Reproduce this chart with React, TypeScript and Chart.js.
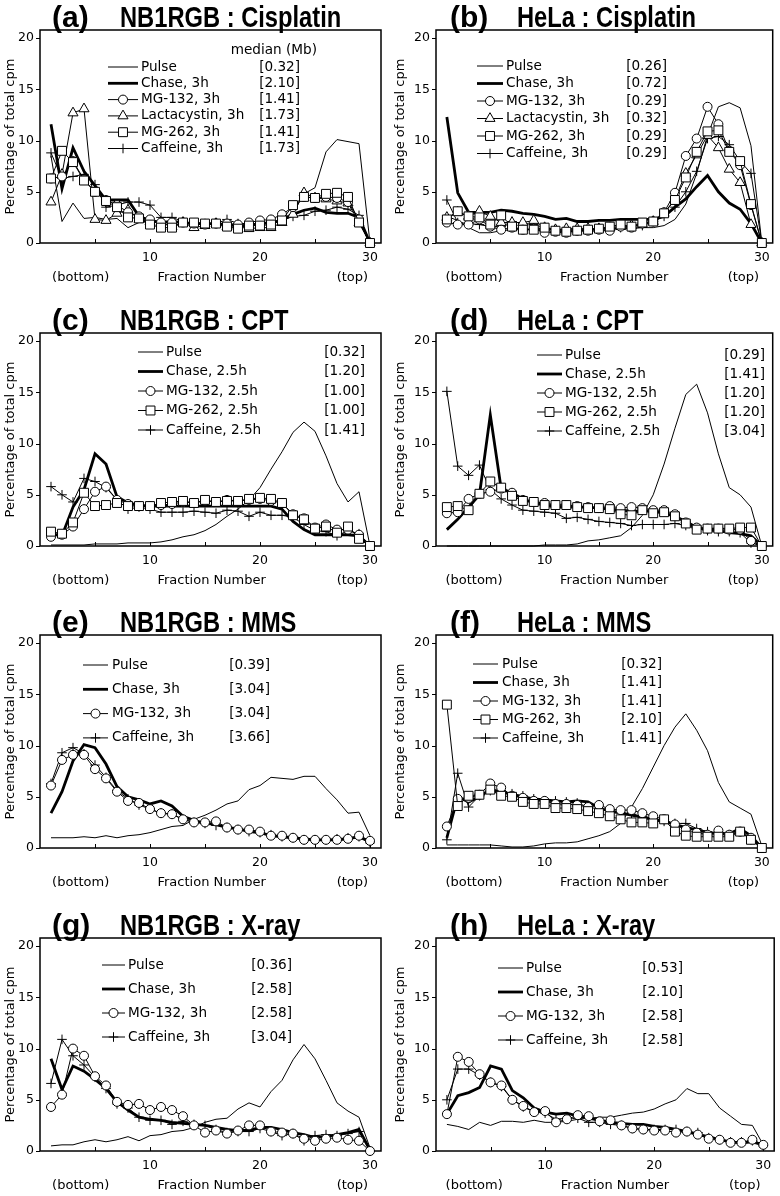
import React, { useEffect, useRef } from 'react';
import { Chart, registerables } from 'chart.js';

Chart.register(...registerables);

// ---------------- data ----------------
const fractions = [1, 2, 3, 4, 5, 6, 7, 8, 9, 10, 11, 12, 13, 14, 15, 16, 17, 18, 19, 20, 21, 22, 23, 24, 25, 26, 27, 28, 29, 30];
const yTickValues = [0, 5, 10, 15, 20];
const xTickValues = [5, 10, 15, 20, 25, 30];

// (a) NB1RGB : Cisplatin
const aPulse = [8.5, 2.1, 3.9, 2.4, 2.5, 2.3, 2.4, 1.5, 2.0, 2.1, 2.0, 2.1, 2.0, 1.9, 1.9, 1.9, 1.8, 1.8, 1.9, 1.9, 1.9, 2.3, 3.0, 4.8, 5.4, 8.9, 10.1, 9.9, 9.7, 0];
const aChase = [11.6, 5.3, 9.3, 7.0, 5.6, 4.2, 4.2, 4.2, 2.6, 2.2, 2.0, 2.1, 2.0, 1.9, 1.9, 1.9, 1.8, 1.7, 1.7, 1.9, 2.0, 2.2, 2.8, 3.2, 3.4, 3.0, 2.9, 2.9, 2.5, 0];
const aMG132 = [6.3, 6.5, 8.0, 6.2, 5.0, 4.2, 3.7, 3.0, 2.6, 2.3, 2.0, 2.0, 2.0, 1.9, 1.8, 1.9, 1.9, 1.8, 2.0, 2.2, 2.3, 2.8, 3.5, 4.5, 4.4, 4.5, 4.4, 4.0, 2.3, 0];
const aLacta = [4.0, 6.7, 12.7, 13.1, 2.3, 2.2, 2.9, 3.2, 2.3, 2.1, 2.0, 1.6, 2.0, 1.5, 1.7, 1.9, 1.6, 1.7, 1.4, 1.5, 1.5, 2.0, 2.8, 4.9, 4.4, 4.3, 4.1, 3.9, 2.0, 0];
const aMG262 = [6.3, 9.0, 7.9, 6.1, 5.0, 4.1, 3.5, 2.5, 2.4, 1.8, 1.5, 1.5, 2.0, 2.0, 1.9, 1.9, 1.6, 1.4, 1.7, 1.7, 1.8, 2.2, 3.7, 4.5, 4.4, 4.8, 4.9, 4.5, 2.0, 0];
const aCaff = [8.8, 6.3, 6.5, 6.7, 5.7, 3.5, 3.7, 4.0, 4.0, 3.7, 2.5, 2.5, 2.1, 1.9, 1.9, 1.9, 2.3, 1.9, 1.8, 1.8, 2.0, 2.2, 2.6, 2.7, 3.1, 3.2, 3.5, 3.3, 2.7, 0];
const aMedians = ['[0.32]', '[2.10]', '[1.41]', '[1.73]', '[1.41]', '[1.73]'];

// (b) HeLa : Cisplatin
const bPulse = [2.6, 2.2, 1.5, 1.0, 1.0, 1.2, 1.3, 1.3, 1.3, 1.3, 1.3, 1.3, 1.3, 1.3, 1.3, 1.4, 1.4, 1.4, 1.5, 1.5, 1.7, 2.3, 3.8, 6.8, 10.5, 13.3, 13.7, 13.2, 9.5, 0];
const bChase = [12.3, 4.9, 3.0, 3.0, 3.0, 3.2, 3.1, 2.9, 2.8, 2.6, 2.3, 2.4, 2.1, 2.1, 2.2, 2.2, 2.3, 2.3, 2.3, 2.3, 2.6, 3.5, 4.3, 5.5, 6.6, 5.0, 3.9, 3.3, 1.9, 0];
const bMG132 = [2.0, 1.8, 1.8, 2.3, 1.6, 1.3, 1.5, 1.3, 1.4, 1.0, 1.1, 1.0, 1.2, 1.2, 1.3, 1.2, 1.6, 1.5, 1.9, 2.1, 3.0, 4.9, 8.5, 10.2, 13.3, 11.6, 9.0, 7.6, 3.7, 0];
const bLacta = [2.5, 3.0, 2.6, 3.1, 2.6, 2.0, 2.0, 2.0, 2.2, 1.5, 1.3, 1.4, 1.4, 1.4, 1.4, 1.5, 1.6, 1.7, 1.8, 2.1, 2.9, 4.3, 6.8, 8.6, 10.5, 9.3, 7.2, 5.9, 1.8, 0];
const bMG262 = [2.3, 3.1, 2.6, 2.5, 1.8, 2.7, 1.6, 1.3, 1.3, 1.5, 1.2, 1.1, 1.2, 1.3, 1.4, 1.6, 1.8, 1.6, 2.0, 2.1, 2.9, 4.2, 6.4, 8.9, 10.9, 11.0, 8.9, 8.0, 3.8, 0];
const bCaff = [4.2, 2.0, 1.9, 1.8, 1.6, 1.6, 2.1, 1.9, 1.8, 1.5, 1.3, 1.2, 1.2, 1.3, 1.4, 1.4, 1.5, 1.7, 1.7, 2.1, 2.6, 3.5, 5.0, 7.0, 10.2, 10.4, 9.6, 8.0, 6.8, 0];
const bMedians = ['[0.26]', '[0.72]', '[0.29]', '[0.32]', '[0.29]', '[0.29]'];

// (c) NB1RGB : CPT
const cPulse = [0.1, 0.1, 0.1, 0.1, 0.2, 0.2, 0.2, 0.3, 0.3, 0.3, 0.4, 0.6, 0.9, 1.1, 1.5, 2.1, 2.9, 3.6, 4.5, 5.7, 7.5, 9.2, 11.1, 12.1, 11.2, 8.8, 6.1, 4.3, 5.3, 0];
const cChase = [1.2, 1.0, 3.8, 5.5, 9.0, 8.0, 4.8, 4.2, 4.0, 3.9, 3.9, 3.9, 3.9, 3.9, 3.9, 3.9, 3.9, 3.9, 3.9, 3.9, 3.9, 3.6, 2.4, 1.6, 1.1, 1.1, 1.1, 1.1, 1.0, 0];
const cMG132 = [0.9, 1.1, 1.9, 3.6, 5.3, 5.8, 4.5, 4.1, 3.9, 3.9, 4.0, 4.1, 4.3, 4.2, 4.4, 4.3, 4.5, 4.4, 4.5, 4.6, 4.4, 4.2, 3.1, 2.7, 1.8, 2.1, 1.6, 1.6, 1.1, 0];
const cMG262 = [1.4, 1.2, 2.3, 5.2, 3.9, 4.0, 4.2, 3.9, 3.9, 3.9, 4.2, 4.3, 4.4, 4.2, 4.5, 4.3, 4.4, 4.4, 4.6, 4.7, 4.6, 4.2, 3.0, 2.6, 1.7, 1.9, 1.3, 1.9, 0.7, 0];
const cCaff = [5.8, 5.0, 4.3, 6.6, 6.3, 5.7, 4.5, 3.6, 3.8, 3.6, 3.3, 3.3, 3.3, 3.4, 3.3, 3.2, 3.5, 3.4, 2.9, 3.3, 3.0, 3.0, 2.8, 2.1, 1.5, 1.4, 1.0, 1.5, 1.2, 0];
const cMedians = ['[0.32]', '[1.20]', '[1.00]', '[1.00]', '[1.41]'];

// (d) HeLa : CPT
const dPulse = [0.0, 0.0, 0.0, 0.0, 0.0, 0.0, 0.0, 0.0, 0.0, 0.1, 0.1, 0.1, 0.2, 0.5, 0.6, 0.8, 1.0, 1.8, 3.0, 5.0, 8.0, 11.5, 14.8, 15.8, 13.0, 9.0, 5.7, 5.0, 3.8, 0];
const dChase = [1.6, 2.6, 3.8, 5.0, 12.8, 5.6, 5.2, 4.6, 4.2, 4.0, 3.8, 3.8, 3.8, 3.8, 3.7, 3.6, 3.5, 3.4, 3.4, 3.4, 3.2, 2.9, 2.4, 1.8, 1.6, 1.5, 1.3, 1.2, 1.0, 0];
const dMG132 = [3.2, 3.3, 4.6, 5.1, 5.3, 5.6, 5.2, 4.5, 4.3, 4.2, 4.0, 4.0, 3.9, 3.8, 3.7, 3.9, 3.7, 3.8, 3.7, 3.5, 3.5, 3.1, 2.3, 1.8, 1.7, 1.7, 1.6, 1.6, 0.5, 0];
const dMG262 = [3.8, 3.9, 3.5, 5.1, 6.3, 5.7, 4.9, 4.4, 4.3, 4.0, 4.0, 4.0, 3.8, 3.7, 3.7, 3.6, 3.1, 3.0, 3.5, 3.2, 3.3, 2.9, 2.2, 1.6, 1.7, 1.7, 1.7, 1.8, 1.8, 0];
const dCaff = [15.1, 7.8, 6.9, 7.9, 5.5, 4.6, 4.0, 3.5, 3.4, 3.3, 3.2, 2.7, 2.8, 2.6, 2.4, 2.3, 2.2, 2.0, 2.1, 2.1, 2.1, 2.2, 2.0, 1.7, 1.5, 1.4, 1.4, 1.3, 0.3, 0];
const dMedians = ['[0.29]', '[1.41]', '[1.20]', '[1.20]', '[3.04]'];

// (e) NB1RGB : MMS
const ePulse = [1.0, 1.0, 1.0, 1.1, 1.0, 1.2, 1.0, 1.2, 1.3, 1.5, 1.8, 2.1, 2.2, 2.8, 3.2, 3.7, 4.3, 4.6, 5.7, 6.1, 6.9, 6.8, 6.7, 7.0, 7.0, 5.8, 4.7, 3.4, 3.5, 1.2];
const eChase = [3.4, 5.5, 8.5, 10.1, 9.8, 8.2, 6.0, 5.0, 4.7, 4.3, 4.6, 4.1, 3.1, 2.7, 2.4, 2.3, 2.0, 1.9, 1.6, 1.5, 1.2, 1.1, 1.0, 0.9, 0.8, 0.8, 0.8, 0.9, 1.1, 0.6];
const eMG132 = [6.1, 8.6, 9.1, 9.1, 7.7, 6.8, 5.5, 4.6, 4.4, 3.8, 3.4, 3.3, 2.8, 2.5, 2.5, 2.6, 2.0, 1.8, 1.8, 1.6, 1.2, 1.2, 1.0, 0.8, 0.8, 0.8, 0.8, 0.9, 1.2, 0.7];
const eCaff = [6.3, 9.3, 9.8, 9.2, 8.1, 6.9, 5.6, 4.8, 4.2, 3.8, 3.4, 3.3, 2.8, 2.5, 2.4, 2.2, 2.0, 1.8, 1.6, 1.5, 1.3, 1.1, 1.0, 0.8, 0.8, 0.8, 0.9, 1.0, 1.1, 0.5];
const eMedians = ['[0.39]', '[3.04]', '[3.04]', '[3.66]'];

// (f) HeLa : MMS
const fPulse = [0.3, 0.3, 0.3, 0.3, 0.3, 0.2, 0.1, 0.1, 0.2, 0.4, 0.5, 0.5, 0.6, 0.9, 1.2, 1.6, 2.4, 4.0, 5.8, 7.9, 10.0, 11.8, 13.1, 11.5, 9.5, 6.4, 4.5, 3.9, 3.3, 0.2];
const fChase = [1.0, 5.0, 4.5, 5.0, 5.7, 5.5, 5.2, 5.0, 4.8, 4.7, 4.6, 4.5, 4.6, 4.5, 3.9, 3.6, 3.4, 3.2, 3.0, 2.8, 2.6, 2.3, 2.0, 1.8, 1.5, 1.4, 1.4, 1.9, 1.2, 0];
const fMG132 = [2.1, 4.8, 4.9, 5.2, 6.3, 5.9, 5.1, 4.9, 4.6, 4.6, 4.3, 4.3, 4.2, 4.0, 4.2, 3.8, 3.7, 3.7, 3.4, 3.1, 2.8, 2.3, 1.8, 1.5, 1.3, 1.7, 1.3, 1.6, 1.0, 0];
const fMG262 = [14.0, 4.1, 5.1, 5.2, 5.7, 5.1, 5.0, 4.5, 4.3, 4.3, 3.9, 3.9, 3.8, 3.6, 3.4, 3.1, 2.8, 2.5, 2.5, 2.4, 2.8, 1.6, 1.2, 1.1, 1.1, 1.1, 1.1, 1.6, 0.8, 0];
const fCaff = [0.8, 7.3, 4.0, 5.1, 5.6, 5.6, 5.3, 5.1, 4.8, 4.6, 4.6, 4.5, 4.4, 4.0, 3.8, 3.7, 3.5, 3.3, 3.1, 2.9, 2.6, 2.4, 2.4, 1.9, 1.6, 1.3, 1.3, 1.6, 0.8, 0];
const fMedians = ['[0.32]', '[1.41]', '[1.41]', '[2.10]', '[1.41]'];

// (g) NB1RGB : X-ray
const gPulse = [0.5, 0.6, 0.6, 0.9, 1.1, 0.9, 1.1, 1.4, 1.0, 1.5, 1.6, 1.9, 2.0, 2.3, 2.8, 3.1, 3.2, 4.1, 4.7, 4.3, 5.8, 6.9, 8.9, 10.4, 9.0, 6.9, 4.7, 3.9, 3.3, 0.3];
const gChase = [9.0, 6.0, 8.3, 7.8, 7.0, 6.1, 4.8, 4.0, 3.3, 3.1, 3.0, 2.8, 2.7, 2.6, 2.5, 2.3, 2.1, 2.0, 2.0, 2.3, 2.3, 2.1, 1.8, 1.6, 1.3, 1.4, 1.6, 1.8, 2.1, 0.1];
const gMG132 = [4.3, 5.5, 10.0, 9.3, 7.3, 6.4, 4.8, 4.5, 4.6, 4.0, 4.3, 4.0, 3.4, 2.5, 1.8, 2.0, 1.7, 2.0, 2.5, 2.5, 1.9, 1.8, 1.7, 1.2, 1.0, 1.2, 1.3, 1.1, 1.0, 0];
const gCaff = [6.6, 10.9, 9.3, 8.4, 7.2, 6.1, 4.6, 4.2, 3.3, 3.0, 3.0, 2.6, 2.9, 2.6, 2.5, 2.1, 1.8, 1.9, 1.9, 2.2, 1.9, 1.5, 1.7, 1.0, 1.5, 1.6, 1.5, 1.7, 1.9, 0];
const gMedians = ['[0.36]', '[2.58]', '[2.58]', '[3.04]'];

// (h) HeLa : X-ray
const hPulse = [2.6, 2.4, 2.1, 2.8, 2.5, 2.9, 2.9, 2.8, 3.0, 2.8, 2.8, 2.9, 3.1, 3.2, 3.3, 3.3, 3.5, 3.7, 3.8, 4.1, 4.6, 5.0, 6.1, 5.6, 5.6, 4.2, 3.4, 2.6, 2.5, 0.6];
const hChase = [3.6, 5.4, 5.7, 6.2, 8.3, 8.0, 5.9, 5.2, 4.2, 3.8, 3.6, 3.7, 3.4, 3.2, 3.0, 2.8, 2.7, 2.6, 2.6, 2.4, 2.3, 2.1, 1.9, 1.6, 1.4, 1.1, 0.9, 0.8, 0.9, 0.6];
const hMG132 = [3.6, 9.2, 8.7, 7.5, 6.7, 6.4, 5.0, 4.4, 3.8, 3.9, 2.8, 3.1, 3.5, 3.4, 2.9, 3.0, 2.5, 2.2, 2.1, 2.0, 2.0, 1.8, 1.9, 1.6, 1.2, 1.1, 0.8, 0.8, 1.1, 0.6];
const hCaff = [5.0, 8.0, 8.0, 7.4, 6.7, 6.3, 5.0, 4.3, 3.8, 3.7, 3.1, 3.2, 3.2, 2.8, 2.8, 2.6, 2.5, 2.2, 2.1, 2.1, 2.1, 2.1, 1.9, 1.8, 1.3, 1.1, 0.9, 0.9, 1.0, 0.5];
const hMedians = ['[0.53]', '[2.10]', '[2.58]', '[2.58]'];

// ---------------- styling / layout ----------------
type Kind = 'pulse' | 'chase' | 'mg132' | 'lacta' | 'mg262' | 'caff';
type Series = { kind: Kind; label: string; data: number[] };
type Legend = { top: number; gap: number; x0: number; x1: number; tx: number; br: number; header?: string };
type PanelDef = { tag: string; title: string; col: number; row: number; series: Series[]; medians: string[]; legend: Legend };

const S = (kind: Kind, label: string, data: number[]): Series => ({ kind, label, data });

const PANELS: PanelDef[] = [
  { tag: '(a)', title: 'NB1RGB : Cisplatin', col: 0, row: 0, medians: aMedians,
    series: [S('pulse', 'Pulse', aPulse), S('chase', 'Chase, 3h', aChase), S('mg132', 'MG-132, 3h', aMG132), S('lacta', 'Lactacystin, 3h', aLacta), S('mg262', 'MG-262, 3h', aMG262), S('caff', 'Caffeine, 3h', aCaff)],
    legend: { top: 67, gap: 16.3, x0: 108, x1: 138, tx: 141, br: 300, header: 'median (Mb)' } },
  { tag: '(b)', title: 'HeLa : Cisplatin', col: 1, row: 0, medians: bMedians,
    series: [S('pulse', 'Pulse', bPulse), S('chase', 'Chase, 3h', bChase), S('mg132', 'MG-132, 3h', bMG132), S('lacta', 'Lactacystin, 3h', bLacta), S('mg262', 'MG-262, 3h', bMG262), S('caff', 'Caffeine, 3h', bCaff)],
    legend: { top: 66, gap: 17.5, x0: 87, x1: 113, tx: 116, br: 277 } },
  { tag: '(c)', title: 'NB1RGB : CPT', col: 0, row: 1, medians: cMedians,
    series: [S('pulse', 'Pulse', cPulse), S('chase', 'Chase, 2.5h', cChase), S('mg132', 'MG-132, 2.5h', cMG132), S('mg262', 'MG-262, 2.5h', cMG262), S('caff', 'Caffeine, 2.5h', cCaff)],
    legend: { top: 49, gap: 19.5, x0: 138, x1: 163, tx: 166, br: 365 } },
  { tag: '(d)', title: 'HeLa : CPT', col: 1, row: 1, medians: dMedians,
    series: [S('pulse', 'Pulse', dPulse), S('chase', 'Chase, 2.5h', dChase), S('mg132', 'MG-132, 2.5h', dMG132), S('mg262', 'MG-262, 2.5h', dMG262), S('caff', 'Caffeine, 2.5h', dCaff)],
    legend: { top: 52, gap: 19, x0: 147, x1: 172, tx: 175, br: 375 } },
  { tag: '(e)', title: 'NB1RGB : MMS', col: 0, row: 2, medians: eMedians,
    series: [S('pulse', 'Pulse', ePulse), S('chase', 'Chase, 3h', eChase), S('mg132', 'MG-132, 3h', eMG132), S('caff', 'Caffeine, 3h', eCaff)],
    legend: { top: 60, gap: 24.3, x0: 83, x1: 108, tx: 112, br: 270 } },
  { tag: '(f)', title: 'HeLa : MMS', col: 1, row: 2, medians: fMedians,
    series: [S('pulse', 'Pulse', fPulse), S('chase', 'Chase, 3h', fChase), S('mg132', 'MG-132, 3h', fMG132), S('mg262', 'MG-262, 3h', fMG262), S('caff', 'Caffeine, 3h', fCaff)],
    legend: { top: 59, gap: 18.5, x0: 83, x1: 108, tx: 112, br: 272 } },
  { tag: '(g)', title: 'NB1RGB : X-ray', col: 0, row: 3, medians: gMedians,
    series: [S('pulse', 'Pulse', gPulse), S('chase', 'Chase, 3h', gChase), S('mg132', 'MG-132, 3h', gMG132), S('caff', 'Caffeine, 3h', gCaff)],
    legend: { top: 57, gap: 24, x0: 102, x1: 125, tx: 128, br: 292 } },
  { tag: '(h)', title: 'HeLa : X-ray', col: 1, row: 3, medians: hMedians,
    series: [S('pulse', 'Pulse', hPulse), S('chase', 'Chase, 3h', hChase), S('mg132', 'MG-132, 3h', hMG132), S('caff', 'Caffeine, 3h', hCaff)],
    legend: { top: 60, gap: 24, x0: 108, x1: 133, tx: 136, br: 293 } },
];

const CANVAS_W = 390;
const CANVAS_H = 288;
const ROW_TOPS = [0, 303, 605, 908];
const BOX_TOP = 30;
const BOX_H = 213;
const COL_BOX = [{ left: 40, right: 381 }, { left: 46, right: 387 }];
const COL_TEXT = [
  { tagX: 52, titleX: 120, bottom: 3.7, fn: 15.6, top: 28.4 },
  { tagX: 60, titleX: 127, bottom: 3.5, fn: 16.4, top: 28.3 },
];
const FONT = '"DejaVu Sans", sans-serif';
const TITLE_FONT = '"Liberation Sans", Arial, sans-serif';

const MARKER: Record<Kind, { style: any; r: number; bw: number; order: number }> = {
  pulse: { style: false, r: 0, bw: 1, order: 6 },
  chase: { style: false, r: 0, bw: 2.8, order: 5 },
  mg132: { style: 'circle', r: 4.5, bw: 1, order: 2 },
  lacta: { style: 'triangle', r: 5.8, bw: 1, order: 3 },
  mg262: { style: 'rect', r: 6.3, bw: 1, order: 1 },
  caff: { style: 'cross', r: 4.8, bw: 1, order: 4 },
};

function drawMarker(ctx: CanvasRenderingContext2D, kind: Kind, x: number, y: number) {
  const m = MARKER[kind];
  if (!m.style) return;
  const r = m.r;
  ctx.save();
  ctx.lineWidth = 1;
  ctx.strokeStyle = '#000';
  ctx.fillStyle = '#fff';
  ctx.beginPath();
  if (m.style === 'circle') {
    ctx.arc(x, y, r, 0, Math.PI * 2);
  } else if (m.style === 'triangle') {
    for (let i = 0; i < 3; i++) {
      const a = (i * 2 * Math.PI) / 3;
      const px = x + Math.sin(a) * r;
      const py = y - Math.cos(a) * r;
      if (i === 0) ctx.moveTo(px, py); else ctx.lineTo(px, py);
    }
    ctx.closePath();
  } else if (m.style === 'rect') {
    const s = Math.SQRT1_2 * r;
    ctx.rect(x - s, y - s, 2 * s, 2 * s);
  } else if (m.style === 'cross') {
    ctx.moveTo(x - r, y); ctx.lineTo(x + r, y);
    ctx.moveTo(x, y - r); ctx.lineTo(x, y + r);
    ctx.stroke();
    ctx.restore();
    return;
  }
  ctx.fill();
  ctx.stroke();
  ctx.restore();
}

function makeDecor(p: PanelDef) {
  const ct = COL_TEXT[p.col];
  return {
    id: 'decor_' + p.tag,
    beforeDatasetsDraw(chart: any) {
      const ctx = chart.ctx as CanvasRenderingContext2D;
      const a = chart.chartArea;
      const xs = chart.scales.x;
      const ys = chart.scales.y;
      ctx.save();
      ctx.strokeStyle = '#000';
      ctx.lineWidth = 1.5;
      ctx.strokeRect(a.left, a.top, a.right - a.left, a.bottom - a.top);
      ctx.lineWidth = 1;
      ctx.beginPath();
      for (const v of yTickValues) {
        const y = Math.round(ys.getPixelForValue(v)) + 0.5;
        ctx.moveTo(a.left - 4, y);
        ctx.lineTo(a.left, y);
      }
      for (const v of xTickValues) {
        const x = Math.round(xs.getPixelForValue(v)) + 0.5;
        ctx.moveTo(x, a.bottom);
        ctx.lineTo(x, a.bottom - 4);
      }
      ctx.stroke();
      ctx.restore();
    },
    afterDraw(chart: any) {
      const ctx = chart.ctx as CanvasRenderingContext2D;
      const a = chart.chartArea;
      const xs = chart.scales.x;
      ctx.save();
      ctx.fillStyle = '#000';
      // title
      ctx.textBaseline = 'alphabetic';
      ctx.textAlign = 'left';
      ctx.font = `bold 30px ${TITLE_FONT}`;
      ctx.fillText(p.tag, ct.tagX, a.top - 3);
      ctx.save();
      ctx.translate(ct.titleX, a.top - 3);
      ctx.scale(0.79, 1);
      ctx.fillText(p.title, 0, 0);
      ctx.restore();

      // x-axis captions
      ctx.font = `13px ${FONT}`;
      ctx.textAlign = 'center';
      ctx.textBaseline = 'middle';
      const yCap = a.bottom + 35;
      ctx.fillText('(bottom)', xs.getPixelForValue(ct.bottom), yCap);
      ctx.fillText('Fraction Number', xs.getPixelForValue(ct.fn), yCap);
      ctx.fillText('(top)', xs.getPixelForValue(ct.top), yCap);

      // legend
      const L = p.legend;
      ctx.font = `13.6px ${FONT}`;
      if (L.header) {
        ctx.textAlign = 'right';
        ctx.fillText(L.header, L.br + 17, L.top - 16.5);
      }
      p.series.forEach((s, i) => {
        const y = L.top + i * L.gap;
        const m = MARKER[s.kind];
        ctx.save();
        ctx.strokeStyle = '#000';
        ctx.lineWidth = m.bw;
        ctx.beginPath();
        ctx.moveTo(L.x0, y);
        ctx.lineTo(L.x1, y);
        ctx.stroke();
        ctx.restore();
        drawMarker(ctx, s.kind, (L.x0 + L.x1) / 2, y);
        ctx.fillStyle = '#000';
        ctx.textAlign = 'left';
        ctx.fillText(s.label, L.tx, y);
        ctx.textAlign = 'right';
        ctx.fillText(p.medians[i], L.br, y);
      });
      ctx.restore();
    },
  };
}

function Panel({ p }: { p: PanelDef }) {
  const ref = useRef<HTMLCanvasElement | null>(null);
  useEffect(() => {
    if (!ref.current) return;
    const box = COL_BOX[p.col];
    const datasets = p.series.map((s) => {
      const m = MARKER[s.kind];
      return {
        label: s.label,
        data: s.data.map((v, i) => ({ x: fractions[i], y: v })),
        borderColor: '#000',
        borderWidth: m.bw,
        backgroundColor: '#fff',
        pointStyle: m.style,
        pointRadius: m.r,
        pointBorderWidth: 1,
        pointBorderColor: '#000',
        pointBackgroundColor: '#fff',
        tension: 0,
        fill: false,
        clip: false as any,
        order: m.order,
      };
    });
    const chart = new Chart(ref.current, {
      type: 'line',
      data: { datasets: datasets as any },
      options: {
        animation: false,
        responsive: false,
        devicePixelRatio: 1,
        events: [],
        layout: { padding: { top: BOX_TOP, right: CANVAS_W - box.right, left: 0, bottom: 0 } },
        plugins: { legend: { display: false }, tooltip: { enabled: false }, title: { display: false } },
        scales: {
          x: {
            type: 'linear',
            min: 0,
            max: 31,
            grid: { display: false, drawTicks: false },
            border: { display: false },
            afterBuildTicks: (s: any) => { s.ticks = xTickValues.map((v) => ({ value: v })); },
            afterFit: (s: any) => { s.height = CANVAS_H - BOX_TOP - BOX_H; },
            ticks: {
              autoSkip: false,
              maxRotation: 0,
              padding: 7,
              color: '#000',
              font: { family: FONT, size: 12.5 },
              callback: (v: any) => (Number(v) % 10 === 0 ? String(v) : ''),
            },
          },
          y: {
            type: 'linear',
            min: 0,
            max: 20.8,
            grid: { display: false, drawTicks: false },
            border: { display: false },
            afterBuildTicks: (s: any) => { s.ticks = yTickValues.map((v) => ({ value: v })); },
            afterFit: (s: any) => { s.width = box.left; },
            ticks: { padding: 6, color: '#000', font: { family: FONT, size: 12.5 } },
            title: {
              display: true,
              text: 'Percentage of total cpm',
              color: '#000',
              font: { family: FONT, size: 13 },
              padding: { top: 3, bottom: 0 },
            },
          },
        },
      },
      plugins: [makeDecor(p)],
    });
    return () => chart.destroy();
  }, [p]);
  return (
    <canvas
      ref={ref}
      width={CANVAS_W}
      height={CANVAS_H}
      style={{ position: 'absolute', left: p.col * CANVAS_W, top: ROW_TOPS[p.row], width: CANVAS_W, height: CANVAS_H }}
    />
  );
}

export default function App() {
  return (
    <div style={{ position: 'absolute', left: 0, top: 0, width: 780, height: 1196, overflow: 'hidden', background: '#fff' }}>
      {PANELS.map((p) => (
        <Panel key={p.tag} p={p} />
      ))}
    </div>
  );
}
